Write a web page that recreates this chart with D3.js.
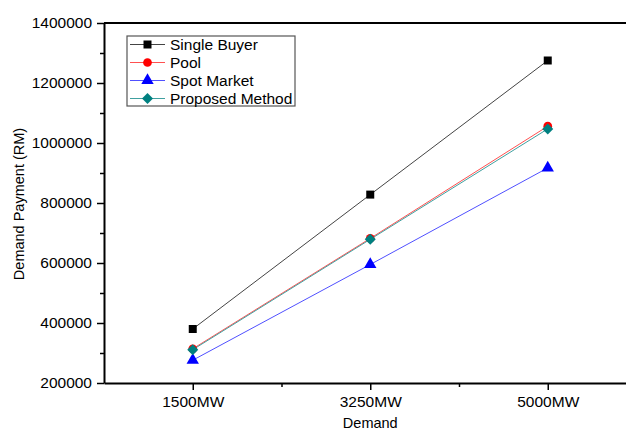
<!DOCTYPE html>
<html>
<head>
<meta charset="utf-8">
<script src="https://cdn.jsdelivr.net/npm/d3@7"></script>
<style>
  body { margin: 0; background: #fff; }
  svg { display: block; font-family: "Liberation Sans", Arial, sans-serif; }
</style>
</head>
<body>
<svg id="chart" width="626" height="432"></svg>
<script>
// data
const demands = ["1500MW", "3250MW", "5000MW"];
const seriesNames = ["Single Buyer", "Pool", "Spot Market", "Proposed Method"];
const singleBuyer = [380000, 828000, 1275000];
const pool = [314000, 682000, 1056000];
const spotMarket = [276000, 595000, 917000];
const proposedMethod = [311000, 679000, 1047000];
const yTicks = [200000, 400000, 600000, 800000, 1000000, 1200000, 1400000];

const colors = ["#000000", "#ff0000", "#0000ff", "#008080"];
const lineColors = ["#444444", "#ff5050", "#5050ff", "#40a0a0"];
const symbols = [d3.symbolSquare, d3.symbolCircle, d3.symbolTriangle, d3.symbolSquare];
const symSizes = [64, 60, 66, 60];
const symRotate = [0, 0, 0, 45];

const allSeries = [singleBuyer, pool, spotMarket, proposedMethod];

const svg = d3.select("#chart");
const plotLeft = 104, plotTop = 23, plotBottom = 383, plotRight = 636.5;

// x: categories at 1,2,3 inside [0.5, 3.5]
let x = d3.scaleLinear().domain([0.5, 3.5]).range([plotLeft, plotRight]);
let y = d3.scaleLinear().domain([200000, 1400000]).range([plotBottom, plotTop]);

// minor ticks
svg.append("g")
    .attr("transform", `translate(${plotLeft},0)`)
    .call(d3.axisLeft(y).tickValues(d3.range(300000, 1400000, 200000)).tickSize(4).tickFormat(""))
    .call(g => g.select(".domain").remove())
    .call(g => g.selectAll("line").attr("stroke-width", 1.5));
svg.append("g")
    .attr("transform", `translate(0,${plotBottom})`)
    .call(d3.axisBottom(x).tickValues([1.5, 2.5]).tickSize(4).tickFormat(""))
    .call(g => g.select(".domain").remove())
    .call(g => g.selectAll("line").attr("stroke-width", 1.5));

// major y axis
svg.append("g")
    .attr("transform", `translate(${plotLeft},0)`)
    .call(d3.axisLeft(y).tickValues(yTicks).tickSize(7).tickPadding(5).tickSizeOuter(0).tickFormat(d3.format("d")))
    .call(g => g.select(".domain").attr("stroke-width", 2))
    .call(g => g.selectAll("line").attr("stroke-width", 1.5))
    .call(g => g.selectAll("text").attr("font-size", 15.5).attr("fill", "#000").attr("font-family", null));

// major x axis
svg.append("g")
    .attr("transform", `translate(0,${plotBottom})`)
    .call(d3.axisBottom(x).tickValues([1, 2, 3]).tickSize(7).tickPadding(6).tickSizeOuter(0).tickFormat(d => demands[d - 1]))
    .call(g => g.select(".domain").attr("stroke-width", 2))
    .call(g => g.selectAll("line").attr("stroke-width", 1.5))
    .call(g => g.selectAll("text").attr("font-size", 15.5).attr("fill", "#000").attr("font-family", null));

// top frame line
svg.append("line")
    .attr("x1", plotLeft).attr("x2", plotRight)
    .attr("y1", plotTop).attr("y2", plotTop)
    .attr("stroke", "#000").attr("stroke-width", 2);

// axis titles
svg.append("text")
    .attr("transform", `translate(24,204) rotate(-90)`)
    .attr("text-anchor", "middle")
    .attr("font-size", 14.5)
    .attr("fill", "#000")
    .text("Demand Payment (RM)");
svg.append("text")
    .attr("x", x(2)).attr("y", 428)
    .attr("text-anchor", "middle")
    .attr("font-size", 14.5)
    .attr("fill", "#000")
    .text("Demand");

// lines + markers
let line = d3.line()
    .x((d, i) => x(i + 1))
    .y(d => y(d));

allSeries.forEach((vals, s) => {
    svg.append("path")
        .datum(vals)
        .attr("fill", "none")
        .attr("stroke", lineColors[s])
        .attr("stroke-width", 1)
        .attr("d", line);
});
allSeries.forEach((vals, s) => {
    svg.append("g").selectAll("path")
        .data(vals)
        .join("path")
        .attr("transform", (d, i) => `translate(${x(i + 1)},${y(d)}) rotate(${symRotate[s]})`)
        .attr("d", d3.symbol().type(symbols[s]).size(symSizes[s]))
        .attr("fill", colors[s]);
});

// legend
let legend = svg.append("g").attr("transform", "translate(127,36)");
legend.append("rect")
    .attr("x", 0).attr("y", 0)
    .attr("width", 168).attr("height", 70)
    .attr("fill", "#fff")
    .attr("stroke", "#555")
    .attr("stroke-width", 1.2);
seriesNames.forEach((name, s) => {
    let ly = 8.5 + s * 18;
    legend.append("line")
        .attr("x1", 3).attr("x2", 38)
        .attr("y1", ly).attr("y2", ly)
        .attr("stroke", lineColors[s]).attr("stroke-width", 1.2);
    legend.append("path")
        .attr("transform", `translate(20.5,${ly}) rotate(${symRotate[s]})`)
        .attr("d", d3.symbol().type(symbols[s]).size(symSizes[s]))
        .attr("fill", colors[s]);
    legend.append("text")
        .attr("x", 43).attr("y", ly + 5.5)
        .attr("font-size", 15.5)
        .attr("fill", "#000")
        .text(name);
});
</script>
</body>
</html>
